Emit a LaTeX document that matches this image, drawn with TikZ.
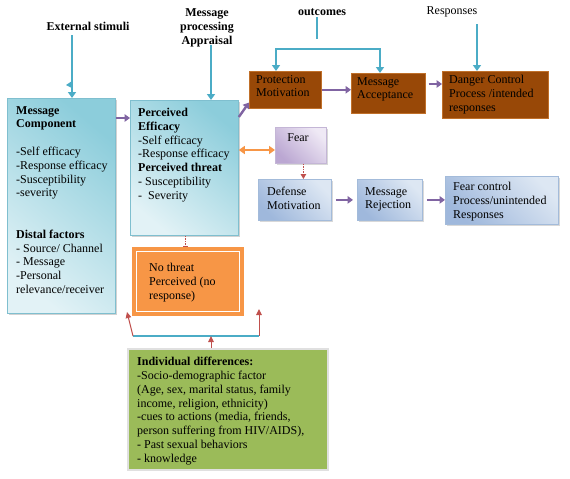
\documentclass[tikz,border=0pt]{standalone}
\usepackage{fontspec}
\setmainfont{Liberation Serif}
\usetikzlibrary{arrows.meta,calc,shadows}
\definecolor{tealdark}{HTML}{8CCDDB}
\definecolor{teallight}{HTML}{E2F2F6}
\definecolor{tealborder}{HTML}{7FBFCF}
\definecolor{brownbox}{HTML}{984807}
\definecolor{brownborder}{HTML}{C0702A}
\definecolor{lavdark}{HTML}{BBA7D2}
\definecolor{lavlight}{HTML}{EFE9F5}
\definecolor{lavborder}{HTML}{C4B6D6}
\definecolor{bluedark}{HTML}{9FB8DC}
\definecolor{bluelight}{HTML}{DDE7F3}
\definecolor{blueborder}{HTML}{A3BBDA}
\definecolor{orangebox}{HTML}{F79646}
\definecolor{greenbox}{HTML}{9BBB59}
\definecolor{arrblue}{HTML}{4BACC6}
\definecolor{arrpurple}{HTML}{8064A2}
\definecolor{arrred}{HTML}{C0504D}
\tikzset{
  boxbase/.style={rectangle, anchor=north west, inner sep=0pt, draw},
  tealbox/.style={boxbase, draw=tealborder, line width=0.8pt, bottom color=teallight, top color=tealdark, shading angle=-40,
     drop shadow={shadow xshift=1.5pt, shadow yshift=-1.5pt, opacity=0.35, fill=gray}},
  brownbx/.style={boxbase, fill=brownbox, draw=brownborder, line width=0.6pt},
  lavbox/.style={boxbase, draw=lavborder, line width=0.8pt, bottom color=lavdark, top color=lavlight, shading angle=-45,
     drop shadow={shadow xshift=1.5pt, shadow yshift=-1.5pt, opacity=0.3, fill=gray}},
  bluebx/.style={boxbase, draw=blueborder, line width=0.8pt, bottom color=bluedark, top color=bluelight, shading angle=-45,
     drop shadow={shadow xshift=1.5pt, shadow yshift=-1.5pt, opacity=0.3, fill=gray}},
  orangebx/.style={boxbase, fill=orangebox, draw=orangebox, line width=0.8pt},
  greenbx/.style={boxbase, fill=greenbox, draw=black!12, line width=1.5pt,
     drop shadow={shadow xshift=1.5pt, shadow yshift=-1.5pt, opacity=0.3, fill=gray}},
  txt/.style={anchor=north west, align=left, inner sep=0pt, font=\fontsize{12}{13.8}\selectfont},
  lbl/.style={align=center, inner sep=0pt, font=\fontsize{12}{13.8}\selectfont},
  barrow/.style={draw=arrblue, line width=2.4pt, -{Triangle[width=8pt,length=6pt]}},
  bline/.style={draw=arrblue, line width=2.4pt},
  parrow/.style={draw=arrpurple, line width=2.4pt, -{Triangle[width=7.5pt,length=5.5pt]}},
  oarrow/.style={draw=orangebox, line width=2.2pt, {Triangle[width=8pt,length=6pt]}-{Triangle[width=8pt,length=6pt]}},
  rarrow/.style={draw=arrred, line width=1pt, -{Triangle[width=5.5pt,length=6pt]}},
}
\begin{document}
\begin{tikzpicture}[x=1pt,y=-1pt]
\useasboundingbox (0,0) rectangle (570,479);
\fill[white] (0,0) rectangle (570,479);

% boxes
\node[tealbox, minimum width=108pt, minimum height=215pt] (mc) at (7,98) {};
\node[tealbox, minimum width=108pt, minimum height=135pt] (pe) at (130,100) {};
\node[brownbx, minimum width=72pt, minimum height=37pt] (pm) at (249,71) {};
\node[brownbx, minimum width=74pt, minimum height=40pt] (ma) at (351,73) {};
\node[brownbx, minimum width=106pt, minimum height=47pt] (dc) at (442,71) {};
\node[lavbox, minimum width=51pt, minimum height=36pt] (fear) at (275,127) {};
\node[bluebx, minimum width=73pt, minimum height=41pt] (dm) at (258,179) {};
\node[bluebx, minimum width=65pt, minimum height=41pt] (mr) at (357,179) {};
\node[bluebx, minimum width=113pt, minimum height=48pt] (fc) at (445,176) {};
\node[orangebx, minimum width=111pt, minimum height=68pt] (nt) at (132,247) {};
\draw[white, line width=0.8pt] ($(nt.north west)+(4,4)$) rectangle ($(nt.south east)+(-4,-4)$);
\node[greenbx, minimum width=200pt, minimum height=121pt] (gr) at (127,348) {};

% box texts
\node[txt] (mct) at (16,106) {\textbf{Message}\\ \textbf{Component}\\[13.8pt] -Self efficacy\\ -Response efficacy\\ -Susceptibility\\ -severity\\[27.6pt] \textbf{Distal factors}\\ - Source/ Channel\\ - Message\\ -Personal\\ relevance/receiver};
\node[txt] (pet) at (138,108) {\textbf{Perceived}\\ \textbf{Efficacy}\\ -Self efficacy\\ -Response efficacy\\ \textbf{Perceived threat}\\ - Susceptibility\\ -\ \ Severity};
\node[txt] (ntt) at (149,263) {No threat\\ Perceived (no\\ response)};
\node[txt] (grt) at (137,357) {\textbf{Individual differences:}\\ -Socio-demographic factor\\ (Age, sex, marital status, family\\ income, religion, ethnicity)\\ -cues to actions (media, friends,\\ person suffering from HIV/AIDS),\\ - Past sexual behaviors\\ - knowledge};
\node[txt] (pmt) at (256,75) {Protection\\ Motivation};
\node[txt] (mat) at (357,77) {Message\\ Acceptance};
\node[txt] (dct) at (449,75) {Danger Control\\ Process /intended\\ responses};
\node[lbl] (feart) at (298,138) {Fear};
\node[txt] (dmt) at (267,187) {Defense\\ Motivation};
\node[txt] (mrt) at (365,187) {Message\\ Rejection};
\node[txt] (fct) at (453,182) {Fear control\\ Process/unintended\\ Responses};

% top labels
\node[lbl, font=\fontsize{12}{13.8}\selectfont\bfseries] (es) at (88,26) {External stimuli};
\node[lbl, font=\fontsize{12}{13.8}\selectfont\bfseries] (apl) at (207,28) {Message\\ processing\\ Appraisal};
\node[lbl, font=\fontsize{12}{13.8}\selectfont\bfseries] (ocl) at (322,12) {outcomes};
\node[lbl] (rsl) at (452,12) {Responses};

% blue connectors
\coordinate (es1) at (72,35);
\draw[barrow] (es1) -- (es1 |- mc.north);
\fill[arrblue] (72,81) -- (66,85) -- (72,88) -- cycle;
\coordinate (ap1) at (211,45);
\draw[barrow] (ap1) -- (ap1 |- pe.north);
\coordinate (oc1) at (317,17);
\coordinate (oc2) at (317,39);
\draw[bline] (oc1) -- (oc2);
\coordinate (h1) at (276,49);
\coordinate (h2) at (380,49);
\draw[bline, line cap=rect] (h1) -- (h2);
\draw[barrow] (h1) -- (h1 |- pm.north);
\draw[barrow] (h2) -- (h2 |- ma.north);
\coordinate (rs1) at (477,24);
\draw[barrow] (rs1) -- (rs1 |- dc.north);

% purple connectors
\coordinate (y118) at (0,118);
\draw[parrow] (mc.east |- y118) -- (pe.west |- y118);
\draw[parrow] ($(pe.north east)+(0,17)$) -- ($(pm.south west)+(0,-6)$);
\draw[parrow] (pm.east) -- (ma.west |- pm.east);
\coordinate (y84) at (0,84);
\draw[parrow] ($(ma.east |- y84)+(3,0)$) -- (dc.west |- y84);
\draw[parrow] ($(dm.east)+(4,0)$) -- ($(mr.west |- dm.east)+(-4,0)$);
\draw[parrow] ($(mr.east)+(4,0)$) -- (fc.west |- mr.east);

% orange double arrow
\coordinate (y150) at (0,150);
\draw[oarrow] (pe.east |- y150) -- (fear.west |- y150);

% red connectors
\draw[draw=arrred, line width=1pt, dash pattern=on 1.5pt off 1pt, -{Triangle[width=5.5pt,length=5pt]}] ($(fear.south)+(2.5,0)$) -- ($(dm.north -| fear.south)+(2.5,0)$);
\draw[draw=arrred, line width=0.9pt, dash pattern=on 1.5pt off 1pt, -{Bar[width=5pt]}] ($(pe.south)+(1,0)$) -- ($(pe.south |- nt.north)+(1,0)$);

\coordinate (bl) at (133,336);
\coordinate (br) at (259,336);
\coordinate (bm) at (211,336);
\coordinate (t1) at (127,312);
\coordinate (t2) at (259,309);
\draw[bline, line width=2pt] (bl) -- (br);
\draw[rarrow] (bm |- gr.north) -- (bm);
\draw[rarrow] (bl) -- (t1);
\draw[rarrow] (br) -- (t2);
\end{tikzpicture}
\end{document}
